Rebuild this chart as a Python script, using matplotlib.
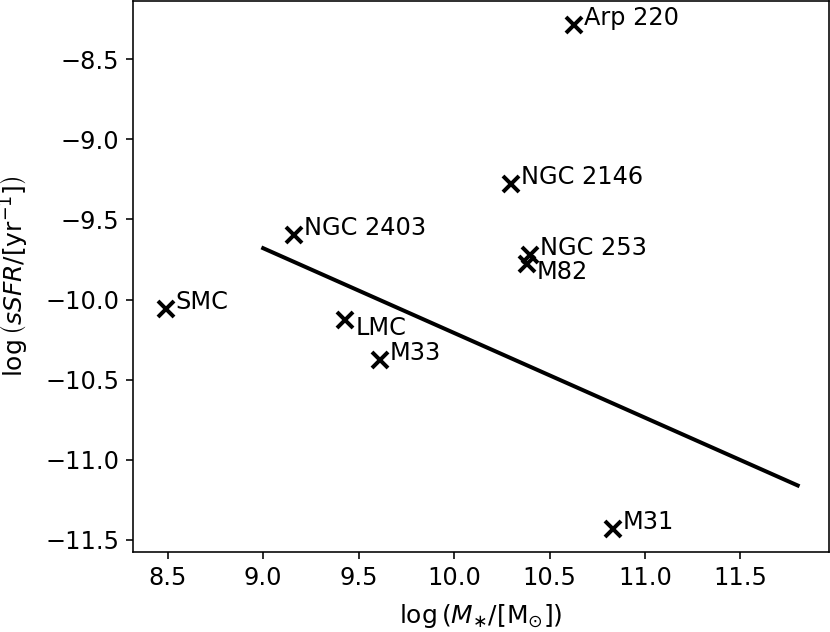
import matplotlib
matplotlib.use("Agg")
import matplotlib.pyplot as plt

# galaxy sample
names = ["Arp 220", "NGC 2146", "NGC 2403", "NGC 253", "M82",
         "SMC", "LMC", "M33", "M31"]
log_mstar = [10.63, 10.30, 9.16, 10.40, 10.38, 8.49, 9.43, 9.61, 10.83]
log_ssfr = [-8.29, -9.28, -9.60, -9.725, -9.78, -10.06, -10.13, -10.38, -11.43]
label_below = ["M82", "LMC"]

# main-sequence line
line_mstar = [9.0, 11.8]
line_ssfr = [-9.68, -11.16]

fig = plt.figure(figsize=(830 / 144, 632 / 144), dpi=144)
ax = fig.add_axes([133 / 830, 80 / 632, 696 / 830, 551 / 632])

ax.plot(line_mstar, line_ssfr, color="black", lw=2)
ax.plot(log_mstar, log_ssfr, "x", color="black", ms=8, mew=2)

for x, y, name in zip(log_mstar, log_ssfr, names):
    if name in label_below:
        ax.annotate(name, xy=(x, y), xytext=(5, 2), textcoords="offset points",
                    va="top", ha="left", fontsize=12)
    else:
        ax.annotate(name, xy=(x, y), xytext=(5, 0), textcoords="offset points",
                    va="baseline", ha="left", fontsize=12)

ax.set_xlim(8.318, 11.964)
ax.set_ylim(-11.575, -8.138)
ax.set_xticks([8.5, 9.0, 9.5, 10.0, 10.5, 11.0, 11.5])
ax.set_yticks([-8.5, -9.0, -9.5, -10.0, -10.5, -11.0, -11.5])
ax.tick_params(labelsize=12)

ax.set_xlabel(r"$\log\left(M_{\ast}/[\mathrm{M}_{\odot}]\right)$",
              fontsize=12.5, labelpad=6)
ax.set_ylabel(r"$\log\left(sSFR/[\mathrm{yr}^{-1}]\right)$",
              fontsize=12.5, labelpad=7)

fig.savefig("out.png", dpi=144)
